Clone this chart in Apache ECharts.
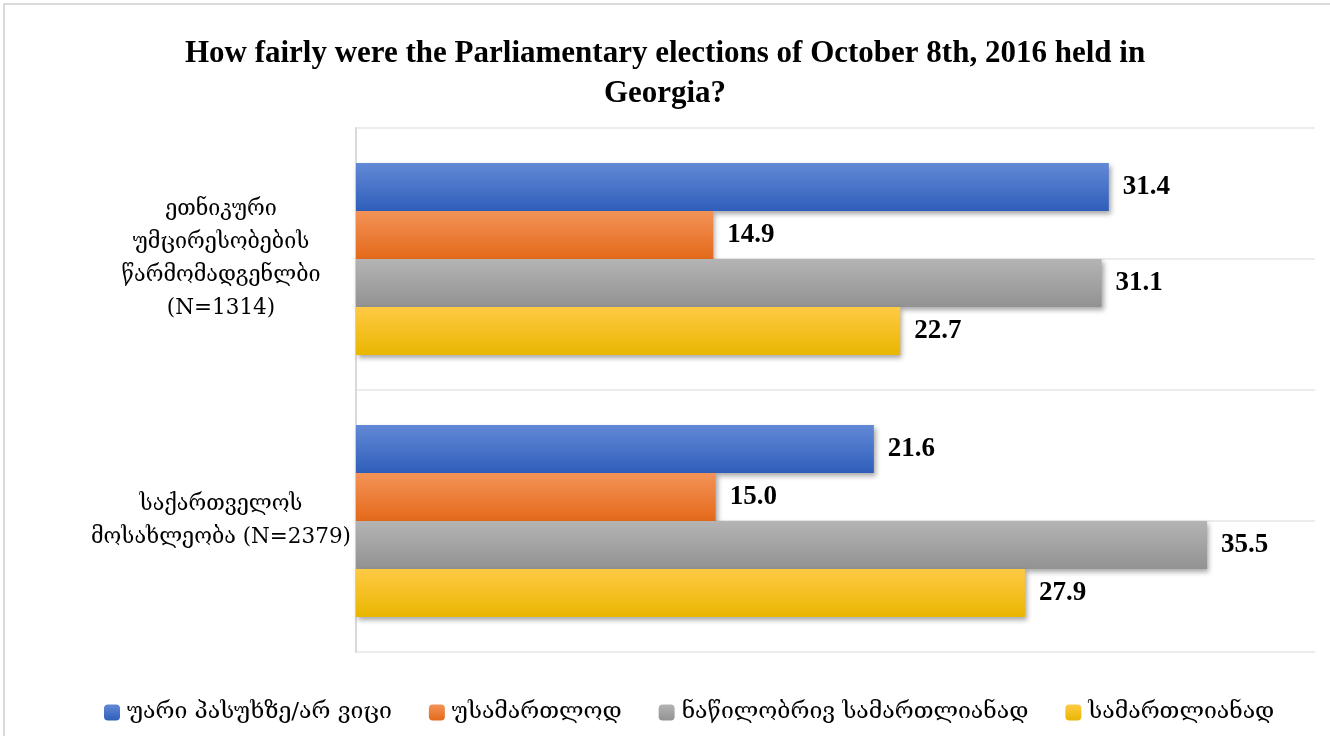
<!DOCTYPE html>
<html>
<head>
<meta charset="utf-8">
<script src="https://cdn.jsdelivr.net/npm/echarts@6/dist/echarts.min.js"></script>
<style>html,body{margin:0;padding:0;background:#fff;}#c{width:1330px;height:736px;}</style>
</head>
<body>
<div id="c"></div>
<script>
const titleText = 'How fairly were the Parliamentary elections of October 8th, 2016 held in\nGeorgia?';
const categories = ['ეთნიკური\nუმცირესობების\nწარმომადგენლბი\n(N=1314)', 'საქართველოს\nმოსახლეობა (N=2379)'];
const seriesNames = ['უარი პასუხზე/არ ვიცი', 'უსამართლოდ', 'ნაწილობრივ სამართლიანად', 'სამართლიანად'];
const refusedDontKnow = [31.4, 21.6];
const unfair = [14.9, 15.0];
const partlyFair = [31.1, 35.5];
const fair = [22.7, 27.9];
const seriesValues = [refusedDontKnow, unfair, partlyFair, fair];

const FONT = '"Liberation Serif", "DejaVu Serif", serif';
const GEO_FONT = '"DejaVu Serif", "Liberation Serif", serif';
const grads = [
  ['#6289d6', '#2f5eba'],
  ['#f39358', '#e4691a'],
  ['#b4b4b4', '#929292'],
  ['#ffca45', '#e9b600']
];
function grad(c) {
  return new echarts.graphic.LinearGradient(0, 0, 0, 1, [
    {offset: 0, color: c[0]}, {offset: 1, color: c[1]}
  ]);
}

const chart = echarts.init(document.getElementById('c'));
chart.setOption({
  backgroundColor: '#ffffff',
  animation: false,
  title: {
    text: titleText,
    left: 'center',
    top: 29,
    textStyle: {fontFamily: FONT, fontSize: 31, fontWeight: 'bold', color: '#000', lineHeight: 40}
  },
  legend: {
    top: 696,
    left: 99,
    itemWidth: 16,
    itemHeight: 16,
    itemGap: 37,
    textStyle: {fontFamily: GEO_FONT, fontSize: 23, color: '#000', padding: [0, 0, 0, 2]},
    data: seriesNames
  },
  grid: {left: 356, right: 15, top: 128, bottom: 84},
  xAxis: {
    type: 'value', min: 0, max: 40,
    axisLabel: {show: false}, axisLine: {show: false}, axisTick: {show: false}, splitLine: {show: false}
  },
  yAxis: [
    {
      type: 'category', inverse: true, data: categories,
      axisLine: {show: true, lineStyle: {color: '#d9d9d9', width: 2}},
      axisTick: {show: false},
      axisLabel: {fontFamily: GEO_FONT, fontSize: 21.5, color: '#000', align: 'center', margin: 135, lineHeight: 33}
    },
    {
      type: 'value', min: 0, max: 4, interval: 1, position: 'right',
      axisLabel: {show: false}, axisLine: {show: false}, axisTick: {show: false},
      splitLine: {show: true, lineStyle: {color: '#e6e6e6', width: 1.5}}
    }
  ],
  series: seriesNames.map((name, i) => ({
    name: name,
    type: 'bar',
    yAxisIndex: 0,
    data: seriesValues[i],
    barWidth: 48,
    barGap: '0%',
    itemStyle: {
      color: grad(grads[i]),
      shadowColor: 'rgba(0,0,0,0.35)', shadowBlur: 5, shadowOffsetX: 2, shadowOffsetY: 3
    },
    label: {
      show: true, position: 'right', distance: 14,
      formatter: p => p.value.toFixed(1),
      fontFamily: FONT, fontSize: 27, fontWeight: 'bold', color: '#000'
    }
  })),
  graphic: [{
    type: 'rect', shape: {x: 4, y: 4, width: 1340, height: 740},
    style: {fill: 'none', stroke: '#d9d9d9', lineWidth: 2}, silent: true
  }]
});
</script>
</body>
</html>
